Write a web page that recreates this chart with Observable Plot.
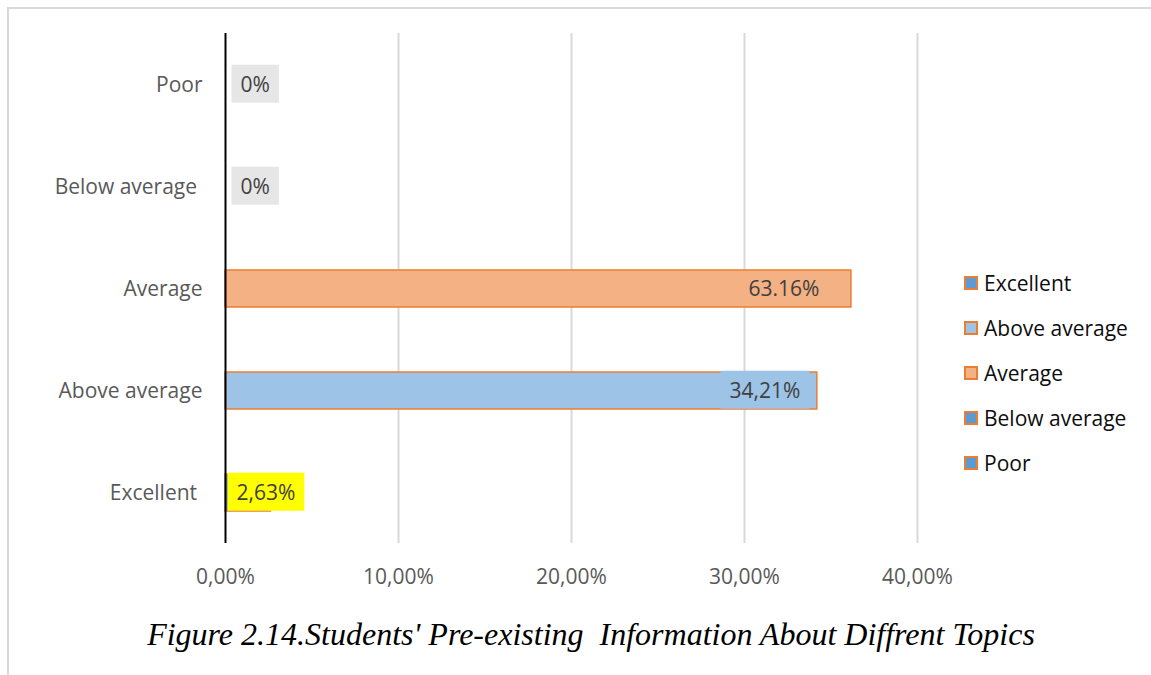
<!DOCTYPE html>
<html>
<head>
<meta charset="utf-8">
<script src="https://cdn.jsdelivr.net/npm/d3@7"></script>
<script src="https://cdn.jsdelivr.net/npm/@observablehq/plot@0.6"></script>
<style>
  html, body { margin: 0; padding: 0; background: #fff; overflow: hidden; }
  #page { position: relative; width: 1151px; height: 675px; }
  #frame { position: absolute; left: 7px; top: 7px; width: 1150px; height: 670px;
           border-top: 2px solid #d9d9d9; border-left: 2px solid #d9d9d9; box-sizing: border-box; }
  #chart { position: absolute; left: 0; top: 0; }
  #legend { position: absolute; left: 964px; top: 260px; font-family: "Open Sans", sans-serif;
            font-size: 21px; color: #0d0d0d; }
  .item { display: flex; align-items: center; height: 45px; }
  .sw { width: 10px; height: 10px; border: 2px solid #ed7d31; margin-right: 6px; }
  #caption { position: absolute; left: 0; width: 1182px; top: 614px; text-align: center;
             font-family: "Liberation Serif", "Times New Roman", serif; font-style: italic;
             font-size: 32px; line-height: 40px; color: #000; white-space: pre; }
</style>
</head>
<body>
<div id="page">
  <div id="frame"></div>
  <div id="chart"></div>
  <div id="legend"></div>
  <div id="caption"></div>
</div>
<script>
// ---- data ----
const categories = ["Poor", "Below average", "Average", "Above average", "Excellent"];
const axisLabels = ["Poor", "Below average\u00a0", "Average", "Above average", "Excellent\u00a0"];
const values = [0, 0, 0.3618, 0.3421, 0.0263];
const labels = ["0%", "0%", "63.16%", "34,21%", "2,63%"];
const xTicks = [0, 0.1, 0.2, 0.3, 0.4];
const legendOrder = ["Excellent", "Above average", "Average", "Below average", "Poor"];
const captionText = "Figure 2.14.Students' Pre-existing  Information About Diffrent Topics";

// ---- styles ----
const barFill = {"Poor": "#5b9bd5", "Below average": "#5b9bd5", "Average": "#f4b183",
                 "Above average": "#9dc3e6", "Excellent": "#5b9bd5"};
const labelBg = {"Poor": "#e7e6e6", "Below average": "#e7e6e6", "Average": null,
                 "Above average": "#9dc3e6", "Excellent": "#ffff00"};

const rows = categories.map((c, i) => ({cat: c, value: values[i], label: labels[i]}));
const fmt = d => (d * 100).toFixed(2).replace(".", ",") + "%";
const yFmt = c => axisLabels[categories.indexOf(c)];
const font = "'Open Sans', sans-serif";

const chart = Plot.plot({
  width: 1151,
  height: 600,
  marginLeft: 225,
  marginRight: 234,
  marginTop: 33,
  marginBottom: 57,
  style: {fontFamily: font, fontSize: "21px", color: "#595959", background: "transparent", overflow: "visible"},
  x: {domain: [0, 0.4], label: null},
  y: {domain: categories, paddingInner: 0.64, paddingOuter: 0.32, label: null},
  color: {type: "identity"},
  marks: [
    Plot.gridX(xTicks.filter(d => d > 0), {stroke: "#d9d9d9", strokeOpacity: 1, strokeWidth: 2}),
    Plot.axisX({ticks: xTicks, tickFormat: fmt, tickSize: 0, tickPadding: 26, fill: "#595959"}),
    Plot.axisY({tickSize: 0, tickPadding: 23, tickFormat: yFmt, fill: "#595959"}),
    Plot.barX(rows, {x: "value", y: "cat", fill: d => barFill[d.cat], stroke: "#ed7d31", strokeWidth: 1.5}),
    Plot.ruleX([0], {stroke: "#000", strokeWidth: 2}),
    Plot.text(rows.filter(d => d.value === 0), {x: "value", y: "cat", text: "label", textAnchor: "start", dx: 15, fill: "#404040"}),
    Plot.text(rows.filter(d => d.cat === "Excellent"), {x: 0, y: "cat", text: "label", textAnchor: "start", dx: 11, fill: "#404040"}),
    Plot.text(rows.filter(d => d.cat === "Average"), {x: "value", y: "cat", text: "label", textAnchor: "end", dx: -32, fill: "#404040"}),
    Plot.text(rows.filter(d => d.cat === "Above average"), {x: "value", y: "cat", text: "label", textAnchor: "end", dx: -17, fill: "#404040"})
  ]
});
document.getElementById("chart").appendChild(chart);

// label background boxes, measured from the rendered text
const NS = "http://www.w3.org/2000/svg";
chart.querySelectorAll('g[aria-label="text"] text').forEach(t => {
  const row = rows.find(r => r.label === t.textContent);
  if (!row) return;
  const bg = labelBg[row.cat];
  if (!bg) return;
  const b = t.getBBox();
  const cy = b.y + b.height / 2;
  const r = document.createElementNS(NS, "rect");
  r.setAttribute("x", b.x - 9);
  r.setAttribute("y", cy - 19);
  r.setAttribute("width", b.width + 18);
  r.setAttribute("height", 38);
  r.setAttribute("fill", bg);
  r.setAttribute("stroke", "none");
  if (t.getAttribute("transform")) r.setAttribute("transform", t.getAttribute("transform"));
  t.parentNode.insertBefore(r, t);
});

// legend
const legend = document.getElementById("legend");
legendOrder.forEach(c => {
  const it = document.createElement("div");
  it.className = "item";
  const sw = document.createElement("span");
  sw.className = "sw";
  sw.style.background = barFill[c];
  const tx = document.createElement("span");
  tx.textContent = c;
  it.appendChild(sw); it.appendChild(tx);
  legend.appendChild(it);
});

document.getElementById("caption").textContent = captionText;
</script>
</body>
</html>
